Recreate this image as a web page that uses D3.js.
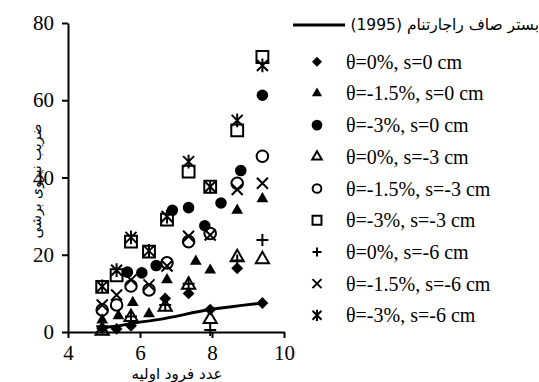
<!DOCTYPE html>
<html>
<head>
<meta charset="utf-8">
<script src="https://cdn.jsdelivr.net/npm/d3@7"></script>
<style>
  body { margin: 0; background: #fff; }
  svg { display: block; }
  .serif { font-family: 'Liberation Serif', Tinos, 'Times New Roman', 'DejaVu Serif', serif; }
  .fa { font-family: 'DejaVu Sans', sans-serif; }
</style>
</head>
<body>
<div id="chart"></div>
<script>
// Rajaratnam (1995) smooth bed curve
const lineX = [4.95, 5.35, 5.75, 6.5, 7.95, 9.4];
const lineY = [1.2, 1.5, 2.2, 3.2, 5.8, 7.5];

// measured points, one array pair per test series
const xA = [4.95, 5.35, 5.75, 6.25, 6.75, 7.35, 7.95, 8.7, 9.4];

const diamondX = [4.95, 5.35, 5.75, 6.7, 7.35, 7.95, 8.7, 9.4];
const diamondY = [1.0, 0.8, 1.6, 8.7, 10.0, 5.8, 16.5, 7.5];

const triX = [4.95, 5.4, 5.8, 6.25, 6.75, 7.55, 7.95, 8.7, 9.4];
const triY = [3.1, 4.2, 7.6, 4.7, 13.5, 18.3, 16.0, 31.5, 34.5];

const circleX = [5.65, 6.05, 6.45, 6.9, 7.35, 7.8, 8.25, 8.8, 9.4];
const circleY = [15.5, 15.3, 17.2, 31.5, 32.2, 27.5, 33.4, 41.8, 61.3];

const openTriX = [4.95, 5.75, 6.7, 7.35, 7.95, 8.7, 9.4];
const openTriY = [0.3, 3.8, 6.5, 12.2, 3.3, 19.3, 18.8];

const openCircleY = [5.7, 7.0, 11.9, 10.9, 17.9, 23.4, 25.5, 38.5, 45.5];
const openSquareY = [11.7, 14.7, 23.4, 20.8, 29.1, 41.5, 37.6, 52.2, 71.2];

const plusX = [4.95, 5.75, 6.7, 7.35, 7.95, 8.7, 9.4];
const plusY = [1.5, 4.0, 7.0, 12.5, 0.5, 18.5, 23.8];

const timesY = [7.0, 9.6, 13.5, 12.2, 17.1, 24.8, 25.1, 36.9, 38.5];
const starY = [11.8, 16.0, 24.5, 21.0, 29.9, 44.1, 37.6, 54.8, 69.0];

const xTicks = [4, 6, 8, 10];
const yTicks = [0, 20, 40, 60, 80];

const lineLabel = 'بستر صاف راجارتنام (1995)';
const xTitle = 'عدد فرود اولیه';
const yTitle = 'ضریب نیروی برشی';

// custom marker shapes
const diamond = { draw(c, s) { const r = Math.sqrt(s / 2); c.moveTo(0, -r); c.lineTo(r, 0); c.lineTo(0, r); c.lineTo(-r, 0); c.closePath(); } };
const plus = { draw(c, s) { const r = s; c.moveTo(-r, 0); c.lineTo(r, 0); c.moveTo(0, -r); c.lineTo(0, r); } };
const times = { draw(c, s) { const r = s; c.moveTo(-r, -r); c.lineTo(r, r); c.moveTo(-r, r); c.lineTo(r, -r); } };
const star = { draw(c, s) { const r = s; c.moveTo(-r, -r); c.lineTo(r, r); c.moveTo(-r, r); c.lineTo(r, -r); c.moveTo(0, -r * 1.25); c.lineTo(0, r * 1.25); } };

const series = [
  { name: 'θ=0%, s=0 cm', x: diamondX, y: diamondY, type: diamond, size: 70, fill: true, lsize: 50 },
  { name: 'θ=-1.5%, s=0 cm', x: triX, y: triY, type: d3.symbolTriangle, size: 60, fill: true, lsize: 45 },
  { name: 'θ=-3%, s=0 cm', x: circleX, y: circleY, type: d3.symbolCircle, size: 105, fill: true, lsize: 90 },
  { name: 'θ=0%, s=-3 cm', x: openTriX, y: openTriY, type: d3.symbolTriangle, size: 75, fill: false, lsize: 40 },
  { name: 'θ=-1.5%, s=-3 cm', x: xA, y: openCircleY, type: d3.symbolCircle, size: 105, fill: false, lsize: 60 },
  { name: 'θ=-3%, s=-3 cm', x: xA, y: openSquareY, type: d3.symbolSquare, size: 140, fill: false, lsize: 80 },
  { name: 'θ=0%, s=-6 cm', x: plusX, y: plusY, type: plus, size: 6, fill: false, lsize: 4.5 },
  { name: 'θ=-1.5%, s=-6 cm', x: xA, y: timesY, type: times, size: 5.5, fill: false, lsize: 4.5 },
  { name: 'θ=-3%, s=-6 cm', x: xA, y: starY, type: star, size: 5.5, fill: false, lsize: 4.5 }
];

const width = 539, height = 382;
const svg = d3.select('#chart').append('svg')
  .attr('width', width).attr('height', height);

const x = d3.scaleLinear().domain([4, 10]).range([68, 284]);
const y = d3.scaleLinear().domain([0, 80]).range([332, 23]);

// axes
const gx = svg.append('g')
  .attr('transform', 'translate(0,' + y(0) + ')')
  .call(d3.axisBottom(x).tickValues(xTicks).tickSize(6).tickSizeOuter(0).tickPadding(7).tickFormat(d3.format('d')));
const gy = svg.append('g')
  .attr('transform', 'translate(' + x(4) + ',0)')
  .call(d3.axisLeft(y).tickValues(yTicks).tickSize(6).tickSizeOuter(0).tickPadding(8).tickFormat(d3.format('d')));

[gx, gy].forEach(g => {
  g.attr('font-family', null).attr('font-size', null);
  g.select('.domain').attr('stroke', '#000').attr('stroke-width', 2);
  g.selectAll('.tick line').attr('stroke', '#000').attr('stroke-width', 2);
  g.selectAll('.tick text').attr('fill', '#000').attr('class', 'serif').style('font-size', '21px');
});

// axis titles
svg.append('text')
  .attr('class', 'fa')
  .attr('x', 177).attr('y', 379)
  .attr('text-anchor', 'middle')
  .style('font-size', '15px')
  .text(xTitle);

svg.append('text')
  .attr('class', 'fa')
  .attr('transform', 'translate(41,181) rotate(-90)')
  .attr('text-anchor', 'middle')
  .style('font-size', '14px')
  .text(yTitle);

// Rajaratnam curve
const lineData = lineX.map((v, i) => [v, lineY[i]]);
svg.append('path')
  .datum(lineData)
  .attr('fill', 'none')
  .attr('stroke', '#000')
  .attr('stroke-width', 3)
  .attr('d', d3.line().x(d => x(d[0])).y(d => y(d[1])).curve(d3.curveMonotoneX));

// markers
series.forEach(s => {
  const pts = s.x.map((v, i) => [v, s.y[i]]);
  svg.append('g').selectAll('path')
    .data(pts)
    .join('path')
    .attr('transform', d => 'translate(' + x(d[0]) + ',' + y(d[1]) + ')')
    .attr('d', d3.symbol().type(s.type).size(s.size))
    .attr('fill', s.fill ? '#000' : 'none')
    .attr('stroke', s.fill ? 'none' : '#000')
    .attr('stroke-width', 2);
});

// legend
const legend = svg.append('g');
legend.append('line')
  .attr('x1', 293).attr('x2', 345).attr('y1', 25).attr('y2', 25)
  .attr('stroke', '#000').attr('stroke-width', 3);
legend.append('text')
  .attr('class', 'fa')
  .attr('x', 539).attr('y', 30)
  .attr('direction', 'rtl')
  .attr('text-anchor', 'start')
  .style('font-size', '15.5px')
  .text(lineLabel);

series.forEach((s, i) => {
  const ly = 61.7 + i * 31.7;
  legend.append('path')
    .attr('transform', 'translate(317,' + ly + ')')
    .attr('d', d3.symbol().type(s.type).size(s.lsize))
    .attr('fill', s.fill ? '#000' : 'none')
    .attr('stroke', s.fill ? 'none' : '#000')
    .attr('stroke-width', 2);
  legend.append('text')
    .attr('class', 'serif')
    .attr('x', 346).attr('y', ly + 7)
    .style('font-size', '20px')
    .text(s.name);
});
</script>
</body>
</html>
